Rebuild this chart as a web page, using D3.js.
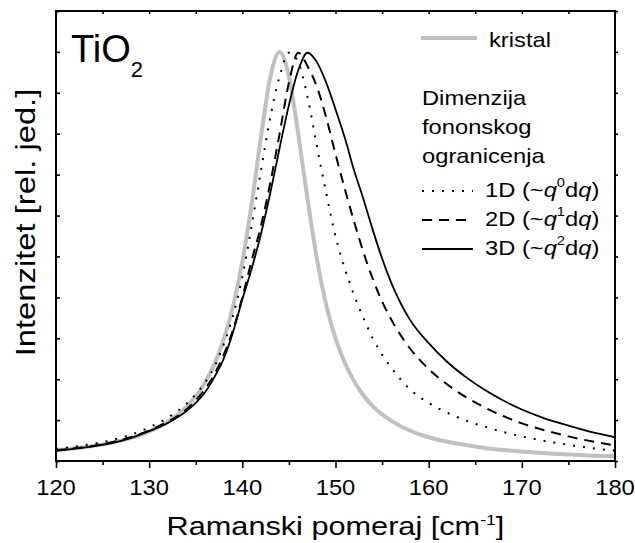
<!DOCTYPE html>
<html><head><meta charset="utf-8">
<script src="https://cdn.jsdelivr.net/npm/d3@7"></script>
<style>body{margin:0;background:#fff}text{font-family:Arial,"Liberation Sans",sans-serif;fill:#000}</style>
</head><body>
<script>
// ---- data ----
const ramanShift = [120,122,124,126,128,130,132,134,135,136,137,138,139,140,141,142,143,144,145,146,147,148,149,150,151,152,153,154,155,156,158,160,162,164,166,168,170,172,174,176,178,180];
const kristal = [0.026,0.031,0.037,0.045,0.056,0.072,0.096,0.132,0.158,0.192,0.237,0.297,0.378,0.487,0.628,0.792,0.938,1.0,0.94,0.80,0.64,0.495,0.382,0.30,0.24,0.195,0.16,0.134,0.114,0.098,0.074,0.058,0.047,0.039,0.032,0.027,0.023,0.02,0.017,0.015,0.013,0.012];
const dim1D = [0.030,0.035,0.042,0.051,0.064,0.082,0.106,0.14,0.163,0.192,0.23,0.285,0.355,0.45,0.575,0.71,0.84,0.94,0.998,0.975,0.89,0.77,0.655,0.55,0.47,0.405,0.35,0.30,0.26,0.228,0.175,0.142,0.118,0.099,0.084,0.071,0.06,0.051,0.043,0.036,0.03,0.025];
const dim2D = [0.026,0.031,0.037,0.046,0.058,0.075,0.096,0.126,0.148,0.176,0.212,0.26,0.32,0.40,0.49,0.575,0.68,0.80,0.925,0.998,0.965,0.915,0.84,0.75,0.665,0.585,0.51,0.445,0.39,0.345,0.275,0.225,0.187,0.156,0.131,0.11,0.092,0.078,0.066,0.055,0.046,0.038];
const dim3D = [0.025,0.030,0.036,0.044,0.056,0.073,0.093,0.122,0.142,0.168,0.205,0.25,0.315,0.395,0.47,0.555,0.655,0.765,0.87,0.955,0.998,0.975,0.925,0.86,0.79,0.71,0.64,0.565,0.495,0.435,0.345,0.288,0.242,0.205,0.174,0.148,0.126,0.108,0.093,0.08,0.068,0.058];
const xTicks = [120,130,140,150,160,170,180];
const xMinorTicks = [125,135,145,155,165,175];
const yTicks = [0,0.1,0.2,0.3,0.4,0.5,0.6,0.7,0.8,0.9,1.0,1.1];

const W = 635, H = 543;
const svg = d3.select("body").append("svg").attr("width", W).attr("height", H);
const x = d3.scaleLinear().domain([120,180]).range([56,615]);
const y = d3.scaleLinear().domain([0,1.1]).range([461,11]);

svg.append("clipPath").attr("id","pc").append("rect")
  .attr("x",56).attr("y",11).attr("width",559).attr("height",450);

const line = d3.line().x((d,i)=>x(ramanShift[i])).y(d=>y(d)).curve(d3.curveMonotoneX);
const plot = svg.append("g").attr("clip-path","url(#pc)");
const series = [
  {v:kristal, stroke:"#c0c0c0", w:4, dash:null},
  {v:dim1D, stroke:"#000", w:2, dash:"2,8"},
  {v:dim2D, stroke:"#000", w:2, dash:"10,7"},
  {v:dim3D, stroke:"#000", w:1.8, dash:null}
];
series.forEach(s=>{
  plot.append("path").attr("d", line(s.v)).attr("fill","none")
    .attr("stroke", s.stroke).attr("stroke-width", s.w)
    .attr("stroke-dasharray", s.dash);
});

// axes
svg.append("g").attr("transform","translate(0,461)").call(d3.axisBottom(x).tickValues(xTicks).tickSize(7).tickFormat(""));
svg.append("g").attr("transform","translate(0,461)").call(d3.axisBottom(x).tickValues(xMinorTicks).tickSize(4).tickFormat(""));
svg.append("g").attr("transform","translate(0,11)").call(d3.axisBottom(x).tickValues(xTicks.concat(xMinorTicks)).tickSize(3).tickFormat(""));
svg.append("g").attr("transform","translate(56,0)").call(d3.axisRight(y).tickValues(yTicks).tickSize(4).tickFormat(""));
svg.append("g").attr("transform","translate(615,0)").call(d3.axisRight(y).tickValues(yTicks).tickSize(3).tickFormat(""));
svg.selectAll(".domain").remove();
svg.selectAll(".tick line").attr("stroke","#000").attr("stroke-width",1.6);
svg.append("rect").attr("x",56).attr("y",11).attr("width",559).attr("height",450)
  .attr("fill","none").attr("stroke","#000").attr("stroke-width",2);

function stretched(tx, ty, size, sx, anchor, rot){
  const g = svg.append("g").attr("transform",`translate(${tx},${ty})${rot?` rotate(${rot})`:""} scale(${sx},1)`);
  return g.append("text").attr("font-size",size).attr("text-anchor",anchor);
}

// tick labels
xTicks.forEach(d=>stretched(x(d), 495, 22, 1.08, "middle").text(d));

// axis titles
const xt = stretched(335.5, 535, 26, 1.18, "middle");
xt.append("tspan").text("Ramanski pomeraj [cm");
xt.append("tspan").attr("font-size",15).attr("dy",-10).text("-1");
xt.append("tspan").attr("dy",10).text("]");

stretched(35, 222.5, 28, 1.17, "middle", -90).text("Intenzitet [rel. jed.]");

// TiO2
const ti = svg.append("text").attr("x",71).attr("y",62).attr("font-size",38);
ti.append("tspan").text("TiO");
ti.append("tspan").attr("font-size",22).attr("dy",15).text("2");

// legend
svg.append("line").attr("x1",421).attr("x2",477).attr("y1",38).attr("y2",38)
  .attr("stroke","#c0c0c0").attr("stroke-width",4);
stretched(489, 47, 21, 1.13, "start").text("kristal");
["Dimenzija","fononskog","ogranicenja"].forEach((t,i)=>{
  stretched(422, [105,134,163][i], 21, 1.13, "start").text(t);
});
const legItems = [
  {lab:"1D (~", sup:"0", dash:"2,8", w:2, yy:197},
  {lab:"2D (~", sup:"1", dash:"10,7", w:2, yy:226},
  {lab:"3D (~", sup:"2", dash:null, w:1.8, yy:255}
];
legItems.forEach(l=>{
  svg.append("line").attr("x1",422).attr("x2",473).attr("y1",l.yy-6).attr("y2",l.yy-6)
    .attr("stroke","#000").attr("stroke-width",l.w).attr("stroke-dasharray",l.dash);
  const t = stretched(485, l.yy, 21, 1.13, "start");
  t.append("tspan").text(l.lab);
  t.append("tspan").attr("font-style","italic").text("q");
  t.append("tspan").attr("font-size",13).attr("dy",-10).text(l.sup);
  t.append("tspan").attr("dy",10).text("d");
  t.append("tspan").attr("font-style","italic").text("q");
  t.append("tspan").text(")");
});
</script>
</body></html>
